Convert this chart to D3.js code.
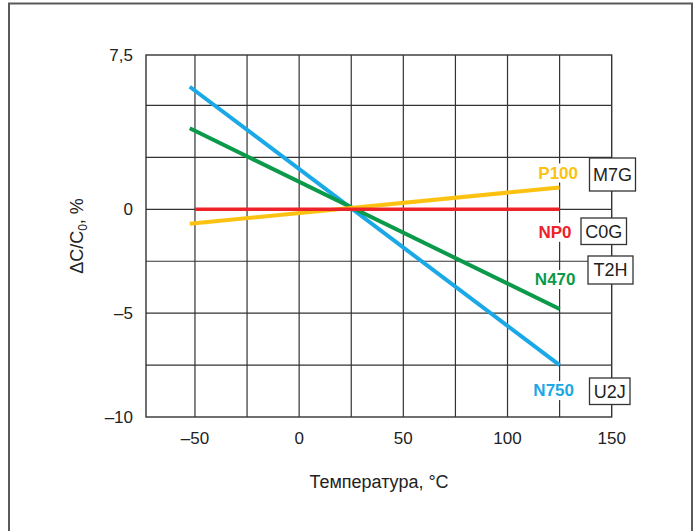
<!DOCTYPE html>
<html>
<head>
<meta charset="utf-8">
<script src="https://cdn.jsdelivr.net/npm/d3@7"></script>
<style>
  body { margin: 0; background: #fff; }
  svg { display: block; font-family: "Liberation Sans", Arial, sans-serif; }
</style>
</head>
<body>
<svg id="chart" width="696" height="531"></svg>
<script>
// data
var series = ["N750", "N470", "P100", "NP0"];
var codes = ["U2J", "T2H", "M7G", "C0G"];
var temps = {
  N750: [-52.5, 125],
  N470: [-52.5, 125],
  P100: [-52.5, 125],
  NP0: [-50, 125],
};
var values = {
  N750: [5.9, -7.5],
  N470: [3.9, -4.8],
  P100: [-0.7, 1.05],
  NP0: [0, 0],
};
var xTicks = [-50, 0, 50, 100, 150];
var xGrid = [-50, -25, 0, 25, 50, 75, 100, 125];
var yTicks = [7.5, 0, -5, -10];
var yGrid = [5, 2.5, 0, -2.5, -5, -7.5];

var color = { N750: "#1aa8e6", N470: "#0a9a4a", P100: "#fcc212", NP0: "#ee2229" };

var svg = d3.select("#chart");

// outer frame
svg.append("path")
  .attr("d", "M9,532 V3.5 H692 V532")
  .attr("fill", "none")
  .attr("stroke", "#5a5a5a")
  .attr("stroke-width", 2);

var x = d3.scaleLinear().domain([-73.5, 150]).range([146, 611.7]);
var y = d3.scaleLinear().domain([-10, 7.43]).range([417, 55]).clamp(true);

var g = svg.append("g");

// grid
g.selectAll(".vg")
  .data(xGrid)
  .enter()
  .append("line")
  .attr("x1", (d) => x(d))
  .attr("x2", (d) => x(d))
  .attr("y1", y(7.5))
  .attr("y2", y(-10))
  .attr("stroke", "#333")
  .attr("stroke-width", 1.2);

g.selectAll(".hg")
  .data(yGrid)
  .enter()
  .append("line")
  .attr("x1", x(-73.5))
  .attr("x2", x(150))
  .attr("y1", (d) => y(d))
  .attr("y2", (d) => y(d))
  .attr("stroke", "#333")
  .attr("stroke-width", 1.2);

g.append("rect")
  .attr("x", x(-73.5))
  .attr("y", y(7.5))
  .attr("width", x(150) - x(-73.5))
  .attr("height", y(-10) - y(7.5))
  .attr("fill", "none")
  .attr("stroke", "#333")
  .attr("stroke-width", 1.4);

// tick labels
g.selectAll(".yt")
  .data(yTicks)
  .enter()
  .append("text")
  .attr("x", 133)
  .attr("y", (d) => y(d))
  .attr("dy", "0.36em")
  .attr("text-anchor", "end")
  .attr("font-size", 17)
  .attr("fill", "#222")
  .text((d) => (d < 0 ? "\u2013" + Math.abs(d) : String(d).replace(".", ",")));

g.selectAll(".xt")
  .data(xTicks)
  .enter()
  .append("text")
  .attr("x", (d) => x(d))
  .attr("y", 444)
  .attr("text-anchor", "middle")
  .attr("font-size", 17)
  .attr("fill", "#222")
  .text((d) => (d < 0 ? "\u2013" + Math.abs(d) : d));

// axis titles
svg.append("text")
  .attr("x", 379)
  .attr("y", 488)
  .attr("text-anchor", "middle")
  .attr("font-size", 18)
  .attr("fill", "#222")
  .text("Температура, °C");

var yt = svg.append("text")
  .attr("transform", "translate(83,236) rotate(-90)")
  .attr("text-anchor", "middle")
  .attr("font-size", 18)
  .attr("fill", "#222");
yt.append("tspan").text("ΔC/C");
yt.append("tspan").attr("font-size", 12).attr("dy", 4).text("0");
yt.append("tspan").attr("dy", -4).text(", %");

// lines
var line = d3.line()
  .x((d) => x(d[0]))
  .y((d) => y(d[1]));

series.forEach(function (s) {
  var pts = temps[s].map((t, i) => [t, values[s][i]]);
  g.append("path")
    .datum(pts)
    .attr("d", line)
    .attr("fill", "none")
    .attr("stroke", color[s])
    .attr("stroke-width", s == "NP0" ? 3.6 : 4);
});

// series labels (white backing hides the 125 gridline)
var labelDy = { N750: 31, N470: -24, P100: -9, NP0: 28.5 };
var labelEnd = { N750: 574, N470: 575.5, P100: 578, NP0: 571.5 };
series.forEach(function (s) {
  var endV = values[s][values[s].length - 1];
  var t = g.append("text")
    .attr("x", labelEnd[s])
    .attr("y", y(endV) + labelDy[s])
    .attr("text-anchor", "end")
    .attr("font-size", 17)
    .attr("font-weight", "bold")
    .attr("fill", color[s])
    .text(s);
  var bb = t.node().getBBox();
  g.insert("rect", "text:last-of-type")
    .attr("x", bb.x - 2)
    .attr("y", bb.y)
    .attr("width", bb.width + 4)
    .attr("height", bb.height)
    .attr("fill", "#fff");
});

// code boxes
var boxes = {
  M7G: [589.5, 158, 46, 33],
  C0G: [581, 218, 45.5, 26.5],
  T2H: [588, 256, 45, 28],
  U2J: [589.5, 378, 40.5, 26.5],
};
codes.forEach(function (c) {
  var b = boxes[c];
  g.append("rect")
    .attr("x", b[0])
    .attr("y", b[1])
    .attr("width", b[2])
    .attr("height", b[3])
    .attr("fill", "#fff")
    .attr("stroke", "#333")
    .attr("stroke-width", 1.3);
  g.append("text")
    .attr("x", b[0] + b[2] / 2)
    .attr("y", b[1] + b[3] / 2)
    .attr("dy", "0.36em")
    .attr("text-anchor", "middle")
    .attr("font-size", 18)
    .attr("fill", "#222")
    .text(c);
});
</script>
</body>
</html>
